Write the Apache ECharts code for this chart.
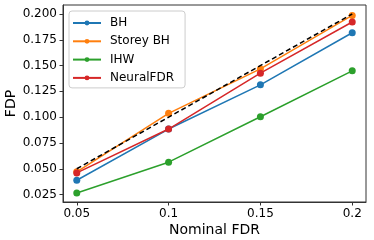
<!DOCTYPE html>
<html><head><meta charset="utf-8">
<script src="https://cdn.jsdelivr.net/npm/echarts@6/dist/echarts.min.js"></script>
<style>html,body{margin:0;padding:0;background:#fff}#c{width:374px;height:240px}</style>
</head><body><div id="c"></div>
<script>
const nominal = [0.05, 0.1, 0.15, 0.2];
const bh = [0.0389, 0.0885, 0.1313, 0.1818];
const storeyBH = [0.0470, 0.1037, 0.1468, 0.1986];
const ihw = [0.0266, 0.0564, 0.1004, 0.1449];
const neuralFDR = [0.0460, 0.0885, 0.1426, 0.1922];
const reference = [0.05, 0.2];
const xTicks = [0.05, 0.1, 0.15, 0.2];
const yTicks = [0.025, 0.05, 0.075, 0.1, 0.125, 0.15, 0.175, 0.2];
const names = ['BH', 'Storey BH', 'IHW', 'NeuralFDR'];
const colors = ['#1f77b4', '#ff7f0e', '#2ca02c', '#d62728'];
const seriesData = [bh, storeyBH, ihw, neuralFDR];

const font = 'DejaVu Sans';
const chart = echarts.init(document.getElementById('c'), null, {renderer: 'canvas'});
const series = seriesData.map((vals, i) => ({
  name: names[i], type: 'line', data: nominal.map((x, j) => [x, vals[j]]),
  symbol: 'circle', symbolSize: 7, showSymbol: true,
  lineStyle: {width: 1.5, color: colors[i]}, itemStyle: {color: colors[i]},
  emphasis: {disabled: true}, animation: false, z: 2 + i
}));
series.push({
  name: 'ref', type: 'line', data: reference.map(v => [v, v]), symbol: 'none',
  lineStyle: {width: 1.5, color: '#000', type: [5, 3]}, z: 10, animation: false,
  emphasis: {disabled: true}
});
chart.setOption({
  animation: false,
  textStyle: {fontFamily: font},
  grid: {left: 63, right: 8, top: 5, bottom: 38, show: true, borderColor: '#333', borderWidth: 1,
    containLabel: false, outerBoundsMode: 'none'},
  legend: {
    data: names, orient: 'vertical', left: 69, top: 11,
    padding: [5, 11, 3, 3], itemWidth: 28, itemHeight: 6, itemGap: 4.3,
    backgroundColor: '#fff', borderColor: '#ccc', borderWidth: 1, borderRadius: 3,
    textStyle: {fontFamily: font, fontSize: 12, color: '#000', padding: [0, 0, 0, 4], lineHeight: 14}
  },
  xAxis: {
    type: 'value', min: 0.0425, max: 0.2075,
    name: 'Nominal FDR', nameLocation: 'middle', nameGap: 21, nameMoveOverlap: false,
    nameTextStyle: {fontFamily: font, fontSize: 14, color: '#000', verticalAlign: 'top'},
    axisLine: {show: true, lineStyle: {color: '#333', width: 1}},
    axisTick: {show: true, length: 3.5, customValues: xTicks, lineStyle: {color: '#333'}},
    axisLabel: {customValues: xTicks, margin: 6, fontSize: 12, color: '#000', fontFamily: font,
      formatter: v => String(Math.round(v * 100) / 100)},
    splitLine: {show: false}
  },
  yAxis: {
    type: 'value', min: 0.0178, max: 0.2087,
    name: 'FDP', nameLocation: 'middle', nameGap: 45, nameMoveOverlap: false,
    nameTextStyle: {fontFamily: font, fontSize: 14, color: '#000'},
    axisLine: {show: true, lineStyle: {color: '#333', width: 1}},
    axisTick: {show: true, length: 3.5, customValues: yTicks, lineStyle: {color: '#333'}},
    axisLabel: {customValues: yTicks, margin: 6, fontSize: 12, color: '#000', fontFamily: font,
      formatter: v => v.toFixed(3)},
    splitLine: {show: false}
  },
  series: series
});
</script></body></html>
